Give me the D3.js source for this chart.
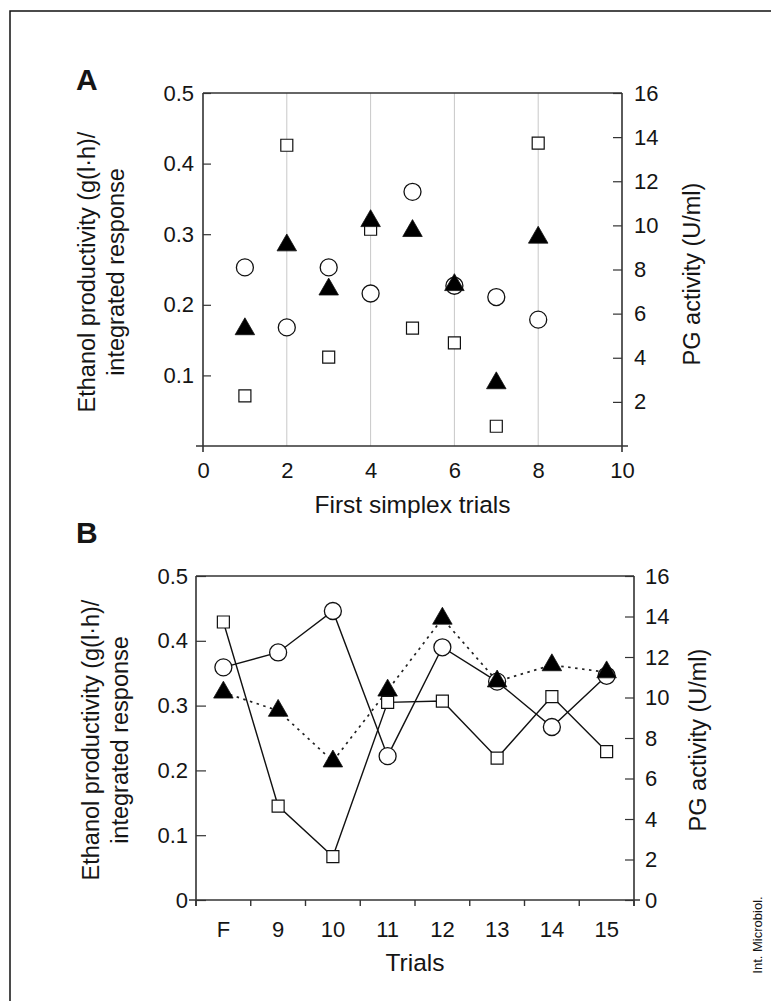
<!DOCTYPE html>
<html>
<head>
<meta charset="utf-8">
<script src="https://cdn.jsdelivr.net/npm/d3@7"></script>
<style>
  body { margin: 0; background: #fff; }
  svg { display: block; }
  text { font-family: "Liberation Sans", Arial, sans-serif; fill: #151515; }
</style>
</head>
<body>
<svg id="drawing_region"></svg>
<script>
// panel A : first simplex trials
const trialsA = [1, 2, 3, 4, 5, 6, 7, 8];
const ethanolA = [0.253, 0.168, 0.253, 0.216, 0.360, 0.227, 0.211, 0.179];   // open circles
const responseA = [0.071, 0.426, 0.126, 0.307, 0.167, 0.146, 0.028, 0.429];  // open squares
const pgA = [5.3, 9.1, 7.1, 10.2, 9.75, 7.3, 2.85, 9.45];                     // filled triangles (U/ml)

// panel B : trials
const trialsB = ['F', '9', '10', '11', '12', '13', '14', '15'];
const ethanolB = [0.359, 0.382, 0.446, 0.222, 0.390, 0.337, 0.267, 0.346];
const responseB = [0.429, 0.145, 0.067, 0.305, 0.307, 0.219, 0.314, 0.229];
const pgB = [10.25, 9.35, 6.85, 10.35, 13.9, 10.8, 11.6, 11.25];

// tick labels
const leftTicksA = [0.1, 0.2, 0.3, 0.4, 0.5];
const rightTicksA = [2, 4, 6, 8, 10, 12, 14, 16];
const bottomTicksA = [0, 2, 4, 6, 8, 10];
const gridA = [2, 4, 6, 8];
const leftTicksB = [0, 0.1, 0.2, 0.3, 0.4, 0.5];
const rightTicksB = [0, 2, 4, 6, 8, 10, 12, 14, 16];

const W = 771, H = 1001;
const axisColor = '#333';
const tickSize = 22;
const fmt = d => d === 0 ? '0' : d3.format('.1f')(d);

const svg = d3.select('#drawing_region')
    .attr('width', W)
    .attr('height', H);

// outer frame (top and left only)
svg.append('path')
    .attr('d', `M10,${H} V11 H${W}`)
    .attr('fill', 'none')
    .attr('stroke', '#111')
    .attr('stroke-width', 1.5);

function styleAxis(g, size) {
    g.select('.domain').remove();
    g.selectAll('.tick line').attr('stroke', axisColor).attr('stroke-width', 1.2);
    g.selectAll('.tick text')
        .attr('fill', '#151515')
        .style('font-size', size + 'px')
        .style('font-family', '"Liberation Sans", Arial, sans-serif');
}

function frameLines(box) {
    // left, right, top and bottom axis lines, with small overhangs at the corners
    let lines = [
        [box.left, box.top, box.left, box.bottom + 6],
        [box.right, box.top, box.right, box.bottom + 6],
        [box.left, box.top, box.right, box.top],
        [box.left - 7, box.bottom, box.right + 6, box.bottom]
    ];
    svg.append('g').selectAll('line')
        .data(lines).enter()
        .append('line')
        .attr('x1', d => d[0]).attr('y1', d => d[1])
        .attr('x2', d => d[2]).attr('y2', d => d[3])
        .attr('stroke', axisColor)
        .attr('stroke-width', 1.6);
}

function drawMarkers(g, pts, kind) {
    if (kind === 'circle') {
        g.selectAll('circle.m')
            .data(pts).enter()
            .append('circle')
            .attr('class', 'm')
            .attr('cx', d => d[0]).attr('cy', d => d[1])
            .attr('r', 8.5)
            .attr('fill', '#fff')
            .attr('stroke', '#111')
            .attr('stroke-width', 1.3);
    } else {
        let sym = kind === 'square'
            ? d3.symbol().type(d3.symbolSquare).size(144)
            : d3.symbol().type(d3.symbolTriangle).size(165);
        g.selectAll('path.' + kind)
            .data(pts).enter()
            .append('path')
            .attr('class', kind)
            .attr('transform', d => `translate(${d[0]},${d[1]})`)
            .attr('d', sym)
            .attr('fill', kind === 'square' ? '#fff' : '#000')
            .attr('stroke', '#111')
            .attr('stroke-width', kind === 'square' ? 1.2 : 0.8);
    }
}

// ---------------- panel A ----------------
const boxA = {left: 203, right: 622, top: 93, bottom: 446};
const xA = d3.scaleLinear().domain([0, 10]).range([boxA.left, boxA.right]);
const yA = d3.scaleLinear().domain([0, 0.5]).range([boxA.bottom, boxA.top]);
const y2A = d3.scaleLinear().domain([0, 16]).range([boxA.bottom, boxA.top]);

svg.append('g').selectAll('line')
    .data(gridA).enter()
    .append('line')
    .attr('x1', d => xA(d)).attr('x2', d => xA(d))
    .attr('y1', boxA.top).attr('y2', boxA.bottom)
    .attr('stroke', '#c8c8c8')
    .attr('stroke-width', 1);

svg.append('g')
    .attr('transform', `translate(${boxA.left},0)`)
    .call(d3.axisLeft(yA).tickValues(leftTicksA).tickFormat(fmt).tickSize(-8).tickPadding(9))
    .call(g => styleAxis(g, tickSize));

svg.append('g')
    .attr('transform', `translate(${boxA.right},0)`)
    .call(d3.axisRight(y2A).tickValues(rightTicksA).tickSize(-9).tickPadding(12))
    .call(g => styleAxis(g, tickSize));

svg.append('g')
    .attr('transform', `translate(0,${boxA.bottom})`)
    .call(d3.axisBottom(xA).tickValues(bottomTicksA).tickSize(0).tickPadding(16))
    .call(g => styleAxis(g, tickSize));

frameLines(boxA);

let markA = svg.append('g');
drawMarkers(markA, trialsA.map((t, i) => [xA(t), yA(ethanolA[i])]), 'circle');
drawMarkers(markA, trialsA.map((t, i) => [xA(t), yA(responseA[i])]), 'square');
drawMarkers(markA, trialsA.map((t, i) => [xA(t), y2A(pgA[i])]), 'triangle');

// ---------------- panel B ----------------
const boxB = {left: 196, right: 634, top: 576, bottom: 900};
const xB = d3.scaleBand().domain(trialsB).range([boxB.left, boxB.right]);
const yB = d3.scaleLinear().domain([0, 0.5]).range([boxB.bottom, boxB.top]);
const y2B = d3.scaleLinear().domain([0, 16]).range([boxB.bottom, boxB.top]);
const cx = t => xB(t) + xB.bandwidth() / 2;

svg.append('g')
    .attr('transform', `translate(${boxB.left},0)`)
    .call(d3.axisLeft(yB).tickValues(leftTicksB).tickFormat(fmt).tickSize(-10).tickPadding(8))
    .call(g => styleAxis(g, tickSize));

svg.append('g')
    .attr('transform', `translate(${boxB.right},0)`)
    .call(d3.axisRight(y2B).tickValues(rightTicksB).tickSize(-9).tickPadding(11))
    .call(g => styleAxis(g, tickSize));

svg.append('g')
    .attr('transform', `translate(0,${boxB.bottom})`)
    .call(d3.axisBottom(xB).tickSize(0).tickPadding(21))
    .call(g => styleAxis(g, tickSize));

// tick marks on the category boundaries
let bounds = trialsB.map(t => xB(t)).concat([boxB.right]);
svg.append('g').selectAll('line')
    .data(bounds).enter()
    .append('line')
    .attr('x1', d => d).attr('x2', d => d)
    .attr('y1', boxB.bottom).attr('y2', boxB.bottom + 6)
    .attr('stroke', axisColor)
    .attr('stroke-width', 1.4);

frameLines(boxB);

let line = d3.line().x(d => d[0]).y(d => d[1]);
let ptsCircB = trialsB.map((t, i) => [cx(t), yB(ethanolB[i])]);
let ptsSqB = trialsB.map((t, i) => [cx(t), yB(responseB[i])]);
let ptsTriB = trialsB.map((t, i) => [cx(t), y2B(pgB[i])]);

svg.append('path').attr('d', line(ptsTriB))
    .attr('fill', 'none').attr('stroke', '#222')
    .attr('stroke-width', 1.7).attr('stroke-dasharray', '2.5,4.5');
svg.append('path').attr('d', line(ptsCircB))
    .attr('fill', 'none').attr('stroke', '#111').attr('stroke-width', 1.4);
svg.append('path').attr('d', line(ptsSqB))
    .attr('fill', 'none').attr('stroke', '#111').attr('stroke-width', 1.4);

let markB = svg.append('g');
drawMarkers(markB, ptsCircB, 'circle');
drawMarkers(markB, ptsSqB, 'square');
drawMarkers(markB, ptsTriB, 'triangle');

// ---------------- texts ----------------
const yTitleSize = 23.5;
const xTitleSize = 24.5;

function vTitle(x, y, lines) {
    let t = svg.append('text')
        .attr('transform', `translate(${x},${y}) rotate(-90)`)
        .attr('text-anchor', 'middle')
        .style('font-size', yTitleSize + 'px');
    lines.forEach((s, i) => {
        t.append('tspan').attr('x', 0).attr('dy', i === 0 ? 0 : 29).text(s);
    });
}

vTitle(95, 272, ['Ethanol productivity (g(l·h)/', 'integrated response']);
vTitle(99, 740, ['Ethanol productivity (g(l·h)/', 'integrated response']);
vTitle(700, 274, ['PG activity (U/ml)']);
vTitle(706, 740, ['PG activity (U/ml)']);

svg.append('text')
    .attr('x', (boxA.left + boxA.right) / 2).attr('y', 513)
    .attr('text-anchor', 'middle')
    .style('font-size', xTitleSize + 'px')
    .text('First simplex trials');

svg.append('text')
    .attr('x', (boxB.left + boxB.right) / 2).attr('y', 971)
    .attr('text-anchor', 'middle')
    .style('font-size', xTitleSize + 'px')
    .text('Trials');

svg.append('text')
    .attr('x', 76).attr('y', 90)
    .style('font-size', '30px').style('font-weight', 'bold')
    .text('A');

svg.append('text')
    .attr('x', 76).attr('y', 543)
    .style('font-size', '30px').style('font-weight', 'bold')
    .text('B');

svg.append('text')
    .attr('transform', 'translate(762,935) rotate(-90)')
    .attr('text-anchor', 'middle')
    .style('font-size', '13px')
    .text('Int. Microbiol.');
</script>
</body>
</html>
